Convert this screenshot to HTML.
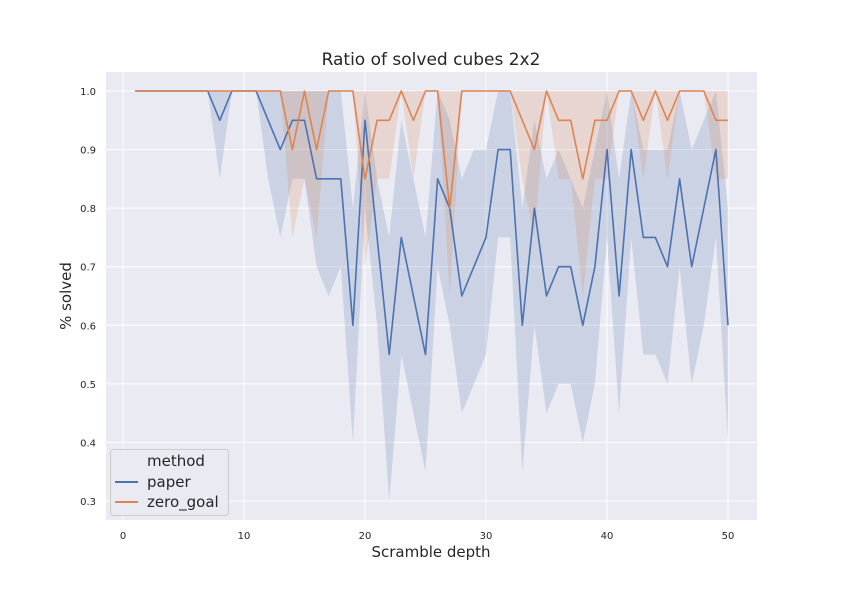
<!DOCTYPE html>
<html><head><meta charset="utf-8"><style>
body{margin:0;background:#fff}
svg text{font-family:"DejaVu Sans","Liberation Sans",sans-serif;fill:#262626}
</style></head><body>
<svg id="chart" width="842" height="595" xmlns="http://www.w3.org/2000/svg">
<rect x="0" y="0" width="842" height="595" fill="#fff"/>
<rect x="106" y="72" width="651" height="448" fill="#eaeaf2"/>
<g id="grid"></g>
<g id="bands"></g>
<g id="lines"></g>
<g id="ticks"></g>
<text x="431" y="65" text-anchor="middle" font-size="17">Ratio of solved cubes 2x2</text>
<text x="431" y="557" text-anchor="middle" font-size="15">Scramble depth</text>
<text transform="translate(71,296) rotate(-90)" text-anchor="middle" font-size="15">% solved</text>
<g>
<rect x="110.5" y="449.5" width="118" height="66" rx="3" fill="#eaeaf2" stroke="#cccccc"/>
<text x="147" y="466" font-size="15">method</text>
<line x1="115" y1="482" x2="138" y2="482" stroke="#4c72b0" stroke-width="2"/>
<text x="147" y="487" font-size="15">paper</text>
<line x1="115" y1="502" x2="138" y2="502" stroke="#dd8452" stroke-width="2"/>
<text x="147" y="507" font-size="15">zero_goal</text>
</g>
</svg>
<script>
const depths=[];for(let i=1;i<=50;i++)depths.push(i);
const paperMean=[1,1,1,1,1,1,1,0.95,1,1,1,0.95,0.9,0.95,0.95,0.85,0.85,0.85,0.6,0.95,0.75,0.55,0.75,0.65,0.55,0.85,0.8,0.65,0.7,0.75,0.9,0.9,0.6,0.8,0.65,0.7,0.7,0.6,0.7,0.9,0.65,0.9,0.75,0.75,0.7,0.85,0.7,0.8,0.9,0.6];
const paperLow=[1,1,1,1,1,1,1,0.85,1,1,1,0.85,0.75,0.85,0.85,0.7,0.65,0.7,0.4,0.8,0.6,0.3,0.55,0.45,0.35,0.7,0.6,0.45,0.5,0.55,0.75,0.75,0.35,0.6,0.45,0.5,0.5,0.4,0.5,0.75,0.45,0.75,0.55,0.55,0.5,0.7,0.5,0.6,0.75,0.4];
const paperHigh=[1,1,1,1,1,1,1,1,1,1,1,1,1,1,1,1,1,1,0.8,1,0.85,0.75,0.95,0.85,0.75,1,0.95,0.85,0.9,0.9,1,1,0.8,0.95,0.85,0.9,0.85,0.8,0.9,1,0.85,1,0.9,0.9,0.9,1,0.9,0.95,1,0.8];
const zeroMean=[1,1,1,1,1,1,1,1,1,1,1,1,1,0.9,1,0.9,1,1,1,0.85,0.95,0.95,1,0.95,1,1,0.8,1,1,1,1,1,0.95,0.9,1,0.95,0.95,0.85,0.95,0.95,1,1,0.95,1,0.95,1,1,1,0.95,0.95];
const zeroLow=[1,1,1,1,1,1,1,1,1,1,1,1,1,0.75,0.85,0.75,1,1,1,0.7,0.85,0.85,1,0.85,1,1,0.65,1,1,1,1,1,0.85,0.75,1,0.85,0.85,0.65,0.85,0.85,1,1,0.85,1,0.85,1,1,1,0.85,0.85];
const zeroHigh=[1,1,1,1,1,1,1,1,1,1,1,1,1,1,1,1,1,1,1,1,1,1,1,1,1,1,1,1,1,1,1,1,1,1,1,1,1,1,1,1,1,1,1,1,1,1,1,1,1,1];
const xTicks=[0,10,20,30,40,50];
const yTicks=[0.3,0.4,0.5,0.6,0.7,0.8,0.9,1.0];
const NS='http://www.w3.org/2000/svg';
const X=v=>123+v*12.1;
const Y=v=>91+(1-v)*585.7;
function mk(tag,attrs,parent){const e=document.createElementNS(NS,tag);for(const k in attrs)e.setAttribute(k,attrs[k]);document.getElementById(parent).appendChild(e);return e;}
xTicks.forEach(t=>{
 const g=mk('line',{x1:X(t),x2:X(t),y1:72,y2:520,stroke:'#fff','stroke-width':1},'grid');
 
 
 const l=mk('text',{x:X(t),y:539,'text-anchor':'middle','font-size':10},'ticks');l.textContent=t;
 
 
});
yTicks.forEach(t=>{
 const g=mk('line',{x1:106,x2:757,y1:Y(t),y2:Y(t),stroke:'#fff','stroke-width':1},'grid');
 
 
 const l=mk('text',{x:96,y:Y(t)+4,'text-anchor':'end','font-size':10},'ticks');l.textContent=t.toFixed(1);
 
 
});
function band(lo,hi,color,name){
 let d='M'+depths.map((x,i)=>X(x)+','+Y(hi[i])).join('L');
 for(let i=depths.length-1;i>=0;i--)d+='L'+X(depths[i])+','+Y(lo[i]);
 const p=mk('path',{d:d+'Z',fill:color,'fill-opacity':0.2,stroke:'none'},'bands');
 
 
}
function line(m,color,name){
 const p=mk('polyline',{points:depths.map((x,i)=>X(x)+','+Y(m[i])).join(' '),fill:'none',stroke:color,'stroke-width':1.6,'stroke-linejoin':'round'},'lines');
 
 
}
band(paperLow,paperHigh,'#4c72b0','paper-ci-band');
band(zeroLow,zeroHigh,'#dd8452','zero-goal-ci-band');
line(paperMean,'#4c72b0','paper-line');
line(zeroMean,'#dd8452','zero-goal-line');
</script>
</body></html>
